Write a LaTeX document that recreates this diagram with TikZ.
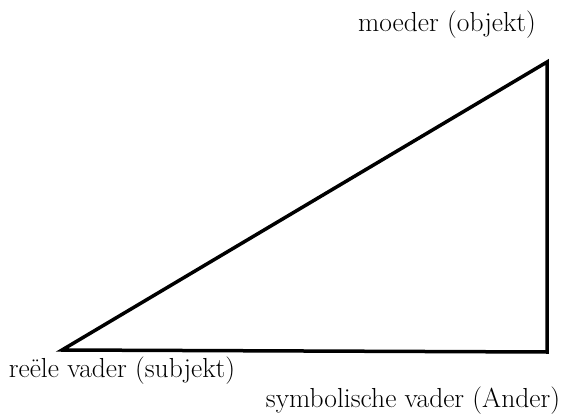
\documentclass[tikz,border=0pt]{standalone}
\begin{document}
\begin{tikzpicture}[x=1pt,y=-1pt,
  lbl/.style={inner sep=0pt,anchor=base,font=\fontsize{27.5}{32}\selectfont},
  edge/.style={line width=3.5pt,line join=miter,draw=black}]
\useasboundingbox (0,0) rectangle (564,414);
\coordinate (rv) at (62,350);
\coordinate (mo) at (547,62);
\coordinate (sv) at (547,352);
\node[lbl] (tmo) at (447,32) {moeder (objekt)};
\node[lbl] (trv) at (122,377) {reële vader (subjekt)};
\node[lbl] (tsv) at (413,407) {symbolische vader (Ander)};
\draw[edge] (rv) -- (mo) -- (sv) -- cycle;
\end{tikzpicture}
\end{document}
